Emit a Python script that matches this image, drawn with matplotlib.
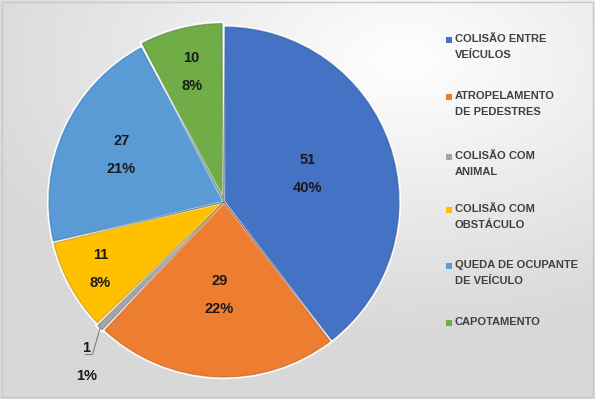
import numpy as np
import matplotlib
matplotlib.use("Agg")
import matplotlib.pyplot as plt
from matplotlib.patches import Rectangle, Wedge

categories = ["COLISÃO ENTRE\nVEÍCULOS", "ATROPELAMENTO\nDE PEDESTRES", "COLISÃO COM\nANIMAL",
              "COLISÃO COM\nOBSTÁCULO", "QUEDA DE OCUPANTE\nDE VEÍCULO", "CAPOTAMENTO"]
values = [51, 29, 1, 11, 27, 10]
percents = ["40%", "22%", "1%", "8%", "21%", "8%"]
colors = ["#4472C4", "#ED7D31", "#A5A5A5", "#FFC000", "#5B9BD5", "#70AD47"]
edge_colors = ["#2F5597", "#C55A11", "#7F7F7F", "#BF9000", "#2E75B6", "#538135"]
label_radius = [0.5, 0.53, 1.0, 0.80, 0.64, 0.76]

plt.rcParams['font.family'] = ['Liberation Sans', 'DejaVu Sans']

W, H = 595, 399
fig = plt.figure(figsize=(W/100, H/100), dpi=100)

# background gradient
bg = fig.add_axes([0, 0, 1, 1], zorder=0)
yy, xx = np.mgrid[0:1:200j, 0:1:300j]
d = np.sqrt(((xx - 0.68) / 1.0) ** 2 + ((yy - 0.85) / 0.9) ** 2)
g = 1.0 - 0.15 * np.clip(d / 0.75, 0, 1)
bg.imshow(np.dstack([g, g, g]), extent=[0, 1, 0, 1], origin="lower", aspect="auto")
bg.add_patch(Rectangle((0.003, 0.004), 0.994, 0.99, fill=False, ec="#c8c8c8", lw=1))
bg.set_xlim(0, 1); bg.set_ylim(0, 1); bg.axis("off")

# pie axes
cx, cy, R = 224, 197, 176
half = 195
ax = fig.add_axes([(cx - half) / W, (cy - half) / H, 2 * half / W, 2 * half / H], zorder=1)

explode = [0, 0, 0.01, 0, 0, 0.02]
wedges, _ = ax.pie(values, colors=colors, startangle=90, counterclock=False, explode=explode,
                   radius=1.0, wedgeprops=dict(edgecolor="white", linewidth=1.6))
for w, ec in zip(wedges, edge_colors):
    inner = Wedge(w.center, w.r - 0.006, w.theta1 + 0.4, w.theta2 - 0.4,
                  fill=False, ec=ec, lw=1.0, alpha=0.6)
    ax.add_patch(inner)
ax.set_xlim(-half / R, half / R); ax.set_ylim(-half / R, half / R)
ax.axis("off")

off = 14 / R
for i, w in enumerate(wedges):
    mid = np.deg2rad((w.theta1 + w.theta2) / 2)
    if values[i] / sum(values) > 0.03:
        r = label_radius[i]
        x, y = r * np.cos(mid), r * np.sin(mid)
        ax.text(x, y + off, str(values[i]), ha="center", va="center", fontsize=10.5,
                fontweight="bold", color="#1a1a1a")
        ax.text(x, y - off, percents[i], ha="center", va="center", fontsize=10.5,
                fontweight="bold", color="#1a1a1a")
    else:
        x0, y0 = 1.0 * np.cos(mid), 1.0 * np.sin(mid)
        x1, y1 = 1.12 * np.cos(mid) + 0.04, 1.12 * np.sin(mid) - 0.07
        ax.plot([x0, x1, x1 - 0.04], [y0, y1, y1], color="#7f7f7f", lw=0.8)
        ax.text(x1 - 0.035, y1 + 0.035, str(values[i]), ha="center", va="center", fontsize=10.5,
                fontweight="bold", color="#1a1a1a")
        ax.text(x1 - 0.035, y1 - 0.12, percents[i], ha="center", va="center", fontsize=10.5,
                fontweight="bold", color="#1a1a1a")

# legend
ys = [40, 97, 157, 210, 266, 323]
for lab, col, yp in zip(categories, colors, ys):
    fig.add_artist(Rectangle((446 / W, (H - yp - 3) / H), 6 / W, 6 / H, fc=col, ec="none",
                             transform=fig.transFigure))
    fig.text(455 / W, (H - yp + 6) / H, lab, ha="left", va="top", fontsize=8,
             fontweight="bold", color="#404040", linespacing=1.75)

fig.savefig("out.png", dpi=100)
